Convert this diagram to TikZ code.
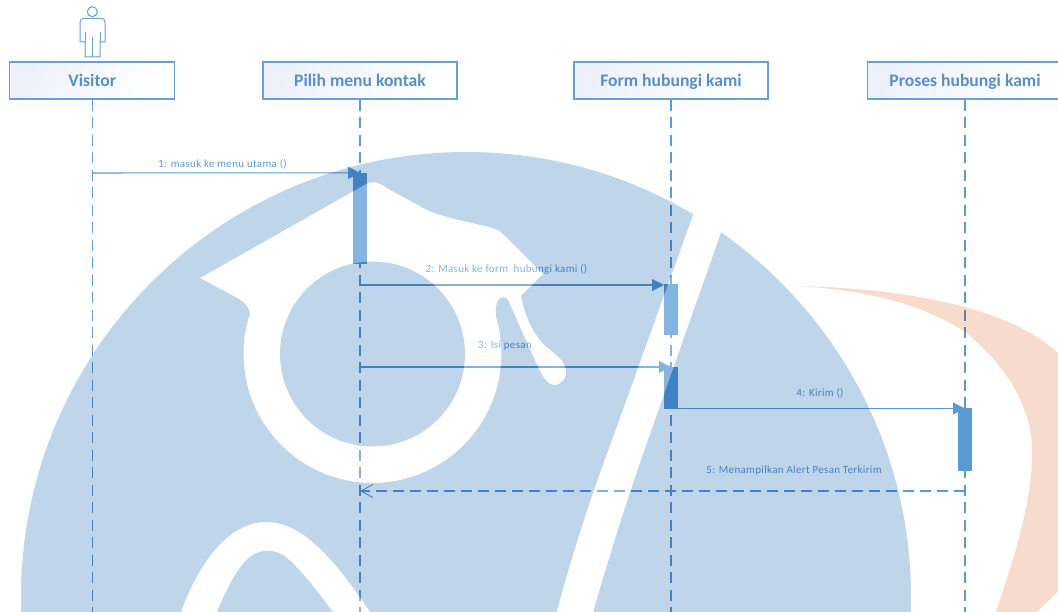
\documentclass[tikz,border=0pt]{standalone}
\usepackage{fontspec}
\setmainfont{Carlito}
\usetikzlibrary{arrows.meta}
\definecolor{umlblue}{HTML}{5B9BD5}
\definecolor{headtext}{HTML}{5A8FC6}
\definecolor{boxline}{HTML}{6A9FD4}
\definecolor{boxfill}{HTML}{EDF1FA}
\definecolor{wmblue}{HTML}{BFD5EA}
\definecolor{wmorange}{HTML}{F7DCCD}
\tikzset{
  headbox/.style={draw=boxline,line width=1.1pt,left color=boxfill,right color=white,shading angle=60,
    minimum height=37pt,inner sep=0pt,text=headtext,text height=15pt,text depth=2pt,font=\fontsize{17.6}{20}\selectfont\bfseries},
  lifeline/.style={draw=umlblue,line width=1.15pt,dash pattern=on 11pt off 6.5pt},
  activation/.style={fill=umlblue,draw=none,minimum width=14pt,inner sep=0pt},
  message/.style={draw=umlblue,line width=1.05pt,-{Triangle[length=12pt,width=12pt]}},
  reply/.style={draw=umlblue,line width=1.05pt,dash pattern=on 11pt off 6pt,-{Straight Barb[length=12pt,width=13pt,line width=.9pt]}},
  msglabel/.style={text=umlblue,inner sep=0pt,font=\fontsize{11}{13}\selectfont\addfontfeature{LetterSpace=3}},
  actorline/.style={draw=boxline,line width=1pt,line join=round}
}
\def\wmwhiteshape{(200,278) -- (237,298) .. controls (246,303) and (250,308) .. (250,316)
  -- plot[domain=197:-15,samples=70] ({372.5+129*cos(\x)},{354+129*sin(\x)})
  .. controls (495,312) and (495,305) .. (499,299)
  .. controls (502,296) and (506,297) .. (508,300)
  -- (537,365) .. controls (543,378) and (548,385) .. (554,385)
  .. controls (562,385) and (567,378) .. (566,370)
  .. controls (565,362) and (558,356) .. (550,350)
  .. controls (535,338) and (525,318) .. (521,296)
  -- (543,274) -- (507,238)
  .. controls (503,234) and (500,230) .. (493,228)
  .. controls (470,222) and (440,217) .. (425,209)
  -- (387,188) .. controls (380,183) and (374,180) .. (366,184) -- cycle
  (372.5,354) circle[radius=92.5]
  (175,630) .. controls (190,580) and (220,522) .. (267,522)
  .. controls (305,522) and (340,565) .. (382,630) -- (345,630)
  -- (333,612) -- (310,582) .. controls (300,571) and (292,561) .. (283,555)
  .. controls (272,549) and (260,549) .. (250,557)
  .. controls (238,566) and (226,590) .. (217,612) -- (210,630) -- cycle
  (702,190) -- (612,440) .. controls (600,472) and (575,540) .. (552,630)
  -- (588,630) .. controls (605,570) and (625,505) .. (648,440) -- (736,190) -- cycle}
\begin{document}
\begin{tikzpicture}[x=1pt,y=-1pt]
\useasboundingbox (0,0) rectangle (1058,612);
\clip (0,0) rectangle (1058,612);
% actor
\node[actorline,draw,circle,minimum size=10pt,inner sep=0pt] (head) at (92.3,11.7) {};
\draw[actorline] (85,57) -- (85,42) -- (80,42) -- (80,22) .. controls (80,19.5) and (81.5,18.5) .. (84,18.5)
  -- (101,18.5) .. controls (103.5,18.5) and (105,19.5) .. (105,22) -- (105,42) -- (100,42) -- (100,57) -- cycle;
\draw[actorline] (85,32) -- (85,42) (100,32) -- (100,42) (92.3,37) -- (92.3,57);
% heads
\node[headbox,minimum width=165pt] (visitor) at (92.3,80.5) {Visitor};
\node[headbox,minimum width=194pt] (menu) at (360,80.5) {Pilih menu kontak};
\node[headbox,minimum width=194pt] (form) at (671,80.5) {Form hubungi kami};
\node[headbox,minimum width=195pt] (proses) at (965,80.5) {Proses hubungi kami};
% lifelines
\coordinate (e1) at (92.3,620); \coordinate (e2) at (360,620);
\coordinate (e3) at (671,620); \coordinate (e4) at (965,620);
\draw[lifeline] (visitor.south) -- (e1);
\draw[lifeline] (menu.south) -- (e2);
\draw[lifeline] (form.south) -- (e3);
\draw[lifeline] (proses.south) -- (e4);
% activations
\node[activation,minimum height=91.5pt] (a1) at (360,218.75) {};
\node[activation,minimum height=51pt] (a2) at (671,309.5) {};
\node[activation,minimum height=41.5pt] (a3) at (671,387.75) {};
\node[activation,minimum height=63pt] (a4) at (965,439.75) {};
% messages
\coordinate (m1s) at (92.3,173);
\coordinate (m2s) at (360,285); \coordinate (m2e) at (664,285);
\coordinate (m3s) at (360,367); \coordinate (m3e) at (671,367);
\coordinate (m4s) at (678,408.5); \coordinate (m4e) at (965,408.5);
\coordinate (m5s) at (965,491); \coordinate (m5e) at (360,491);
\draw[message] (m1s) -- (a1.north);
\draw[message] (m2s) -- (m2e);
\draw[message] (m3s) -- (m3e);
\draw[message] (m4s) -- (m4e);
\draw[reply] (m5s) -- (m5e);
\node[msglabel] (l1) at (222.5,164.5) {1: masuk ke menu utama ()};
\node[msglabel] (l2) at (506.5,269.5) {2: Masuk ke form\ \ hubungi kami ()};
\node[msglabel] (l3) at (505,346) {3: Isi pesan};
\node[msglabel] (l4) at (820,393.5) {4: Kirim ()};
\node[msglabel] (l5) at (794,470.5) {5: Menampilkan Alert Pesan Terkirim};
% watermark laid over the diagram
\begin{scope}
  \clip (466,597) circle[radius=445];
  \fill[white,opacity=.25,even odd rule] \wmwhiteshape;
\end{scope}
\begin{scope}[blend mode=multiply]
  \begin{scope}
    \clip (466,597) circle[radius=445];
    \fill[wmblue,even odd rule] (0,0) rectangle (1058,640) \wmwhiteshape;
  \end{scope}
  \fill[wmorange] (798,286) .. controls (880,288) and (1000,300) .. (1058,353)
    -- (1070,365) -- (1070,580) -- (1037,612) -- (1030,622) -- (992,622)
    .. controls (1018,550) and (1034,490) .. (1032,447)
    .. controls (1030,400) and (1000,360) .. (965,332)
    .. controls (920,302) and (860,290) .. (798,286) -- cycle;
\end{scope}
\end{tikzpicture}
\end{document}
